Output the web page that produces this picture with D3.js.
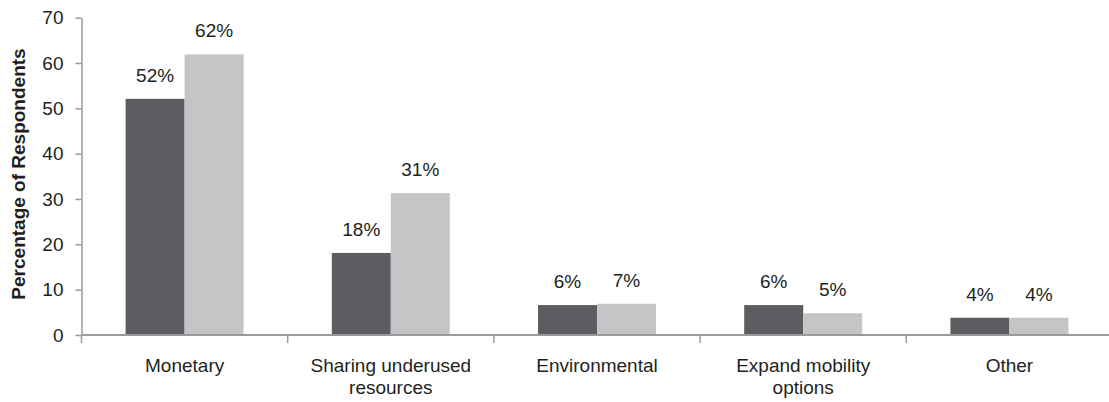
<!DOCTYPE html>
<html>
<head>
<meta charset="utf-8">
<script src="https://cdn.jsdelivr.net/npm/d3@7"></script>
<style>
  body { margin: 0; background: #fff; }
  svg text { font-family: "Liberation Sans", Arial, sans-serif; fill: #231f20; }
</style>
</head>
<body>
<div id="chart"></div>
<script>
var categories = [["Monetary"], ["Sharing underused", "resources"], ["Environmental"], ["Expand mobility", "options"], ["Other"]]
var seriesA = [52.1, 18.1, 6.6, 6.6, 3.8]
var seriesB = [61.9, 31.3, 6.9, 4.8, 3.8]
var labelsA = ["52%", "18%", "6%", "6%", "4%"]
var labelsB = ["62%", "31%", "7%", "5%", "4%"]
var yTicks = [0, 10, 20, 30, 40, 50, 60, 70]

var W = 1109, H = 402
var x0 = 81.5, bandW = 206.2, yBase = 335, yTop = 17.7

var svg = d3.select("#chart").append("svg")
    .attr("width", W)
    .attr("height", H)

// last band runs past the right edge, like the original
var x = d3.scaleBand()
    .domain(d3.range(categories.length))
    .range([x0, x0 + bandW * categories.length])

var y = d3.scaleLinear()
    .domain([0, 70])
    .range([yBase, yTop])

// bars: pair is 118px wide, centred in band
var inner = d3.scaleBand()
    .domain([0, 1])
    .range([0, 118])

var groups = svg.selectAll("g.grp")
    .data(categories)
    .enter().append("g")
    .attr("class", "grp")
    .attr("transform", function (d, i) {
        return "translate(" + (x(i) + x.bandwidth() / 2 - 59) + ",0)"
    })

groups.append("rect")
    .attr("x", inner(0))
    .attr("width", inner.bandwidth())
    .attr("y", function (d, i) { return y(seriesA[i]) })
    .attr("height", function (d, i) { return y(0) - y(seriesA[i]) })
    .attr("fill", "#5c5d61")

groups.append("rect")
    .attr("x", inner(1))
    .attr("width", inner.bandwidth())
    .attr("y", function (d, i) { return y(seriesB[i]) })
    .attr("height", function (d, i) { return y(0) - y(seriesB[i]) })
    .attr("fill", "#c4c5c7")

groups.append("text")
    .attr("x", inner(0) + inner.bandwidth() / 2)
    .attr("y", function (d, i) { return y(seriesA[i]) - 17 })
    .attr("text-anchor", "middle")
    .style("font-size", "19px")
    .text(function (d, i) { return labelsA[i] })

groups.append("text")
    .attr("x", inner(1) + inner.bandwidth() / 2)
    .attr("y", function (d, i) { return y(seriesB[i]) - 17 })
    .attr("text-anchor", "middle")
    .style("font-size", "19px")
    .text(function (d, i) { return labelsB[i] })

// y axis
var yAxis = d3.axisLeft(y).tickValues(yTicks).tickSize(6).tickSizeOuter(0).tickPadding(12)
var gy = svg.append("g")
    .attr("transform", "translate(" + x0 + ",0)")
    .call(yAxis)
gy.select(".domain").attr("stroke", "#9a9a9c").attr("stroke-width", 1.5)
gy.selectAll(".tick line").attr("stroke", "#9a9a9c").attr("stroke-width", 1.5)
gy.selectAll(".tick text").style("font-size", "19px").attr("fill", "#231f20")
    .style("font-family", "Liberation Sans, Arial, sans-serif")

// x axis: line plus ticks at band edges
var xEdges = d3.range(categories.length + 1).map(function (i) {
    return i < categories.length ? x(i) : x(i - 1) + x.bandwidth()
})
svg.append("line")
    .attr("x1", x0).attr("x2", W)
    .attr("y1", y(0)).attr("y2", y(0))
    .attr("stroke", "#9a9a9c").attr("stroke-width", 2)
svg.selectAll("line.xt")
    .data(xEdges)
    .enter().append("line")
    .attr("class", "xt")
    .attr("x1", function (d) { return d }).attr("x2", function (d) { return d })
    .attr("y1", y(0)).attr("y2", y(0) + 8)
    .attr("stroke", "#9a9a9c").attr("stroke-width", 1.5)

// category labels
var cl = svg.selectAll("text.cat")
    .data(categories)
    .enter().append("text")
    .attr("class", "cat")
    .attr("text-anchor", "middle")
    .style("font-size", "19px")
    .attr("transform", function (d, i) {
        return "translate(" + (x(i) + x.bandwidth() / 2) + "," + (y(0) + 37) + ")"
    })
cl.selectAll("tspan")
    .data(function (d) { return d })
    .enter().append("tspan")
    .attr("x", 0)
    .attr("dy", function (d, i) { return i == 0 ? 0 : 22 })
    .text(function (d) { return d })

// y axis title
svg.append("text")
    .attr("transform", "translate(25,174) rotate(-90)")
    .attr("text-anchor", "middle")
    .style("font-size", "19px")
    .style("font-weight", "bold")
    .text("Percentage of Respondents")
</script>
</body>
</html>
